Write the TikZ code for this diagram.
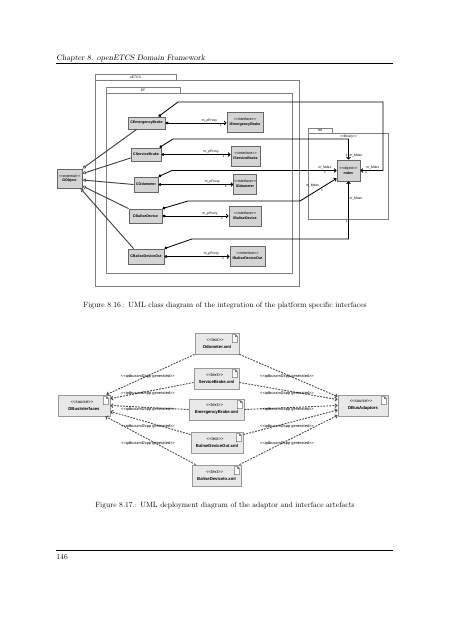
\documentclass[tikz,border=0pt]{standalone}
\usepackage{fontspec}
\usepackage{tikz}
\usetikzlibrary{arrows.meta,positioning}
\newfontfamily\umlfont{Liberation Sans}
\newlength\pxu
\setlength\pxu{1.3165pt}
\newcommand\umlst[1]{{\mdseries<{}<#1>{}>}}
\newcommand\fileicon[1]{\draw[iconline, shift={(#1.north east)}] (-7,2) -- (-4,2) -- (-2,4) -- (-2,10) -- (-7,10) -- cycle (-4,2) -- (-4,4) -- (-2,4);}

\begin{document}
\begin{tikzpicture}[x=\pxu, y=-\pxu, line width=1.1pt,
	cls/.style={draw=black!60, fill=black!17, inner sep=0pt, align=center, font=\umlfont\fontsize{4.8}{5.4}\selectfont\bfseries},
	art/.style={draw=black!40, fill=black!9, inner sep=0pt, align=center, minimum height=21\pxu, font=\umlfont\fontsize{5.6}{6.4}\selectfont\bfseries},
	pkg/.style={draw=black!50},
	role/.style={font=\umlfont\fontsize{4.4}{5}\selectfont, inner sep=0.8pt},
	deplabel/.style={font=\umlfont\fontsize{5.2}{6}\selectfont, inner sep=0pt},
	gen/.style={draw=black!75, line width=1.2pt, -{Triangle[open, length=4.5pt, width=4.5pt, line width=0.7pt]}},
	proxy/.style={{Diamond[length=4.5pt, width=4pt]}-{Straight Barb[length=2.5pt, width=5pt]}},
	dep/.style={draw=black!70, line width=1.2pt, dash pattern=on 2.4pt off 1.6pt, -{Straight Barb[length=2.5pt, width=5pt]}},
	iconline/.style={draw=black!55, fill=white, line width=0.8pt},
	pagetext/.style={font=\fontsize{10}{12}\selectfont, inner sep=0pt}]
	\fill[white] (0,0) rectangle (453,640);
	\useasboundingbox (0,0) rectangle (453,640);

	% Page {header, captions, footer}
	\node [pagetext, anchor=base west] (header) at (56,60.5) {\fontsize{10.4}{12}\selectfont\slshape Chapter 8. openETCS Domain Framework};
	\draw [line width=1.2pt] (56,63.5) -- (393,63.5);
	\node [pagetext, anchor=base] (capOne) at (225,307.5) {Figure 8.16.: UML class diagram of the integration of the platform specific interfaces};
	\node [pagetext, anchor=base] (capTwo) at (225,507.5) {Figure 8.17.: UML deployment diagram of the adaptor and interface artefacts};
	\draw [line width=1.2pt] (56,550) -- (393,550);
	\node [pagetext, anchor=base west] (pageNo) at (56,559) {146};

	% Packages
	\draw [pkg] (95,74) rectangle (176,80) (95,80) rectangle (299,286);
	\node [role] (etcsLbl) at (135.5,77) {eETCS};
	\draw [pkg] (106,87) rectangle (180,93) (106,93) rectangle (292,273);
	\node [role] (efLbl) at (143,90) {EF};
	\draw [pkg] (308,128) rectangle (332,133) (308,133) rectangle (388,219);
	\node [role] (ddLbl) at (320,130.5) {dd};

	% Classes {gObj, cEB, cSB, cOdo, cBD, cBDO, iEB, iSB, iOdo, iBD, iBDO, mdev}
	\node [cls, minimum width=25\pxu, minimum height=19\pxu] (gObj) at (69.5,178.5) {\umlst{external}\\[1pt]GObject};
	\node [cls, minimum width=37\pxu, minimum height=12\pxu] (cEB)  at (146.5,123)  {CEmergencyBrake};
	\node [cls, minimum width=30\pxu, minimum height=13\pxu] (cSB)  at (146,154.5)  {CServiceBrake};
	\node [cls, minimum width=24\pxu, minimum height=15\pxu] (cOdo) at (146,184.5)  {COdometer};
	\node [cls, minimum width=33\pxu, minimum height=14\pxu] (cBD)  at (145.5,216)  {CBaliseDevice};
	\node [cls, minimum width=36\pxu, minimum height=15\pxu] (cBDO) at (146,256.5)  {CBaliseDeviceOut};
	\node [cls, minimum width=36\pxu, minimum height=20\pxu] (iEB)  at (245,122)    {\umlst{interface}\\[1.5pt]IEmergencyBrake};
	\node [cls, minimum width=29\pxu, minimum height=20\pxu] (iSB)  at (245.5,156)  {\umlst{interface}\\[1.5pt]IServiceBrake};
	\node [cls, minimum width=22\pxu, minimum height=20\pxu] (iOdo) at (245,184)    {\umlst{interface}\\[1.5pt]IOdometer};
	\node [cls, minimum width=32\pxu, minimum height=20\pxu] (iBD)  at (245,216)    {\umlst{interface}\\[1.5pt]IBaliseDevice};
	\node [cls, minimum width=35\pxu, minimum height=20\pxu] (iBDO) at (247.5,256)  {\umlst{interface}\\[1.5pt]IBaliseDeviceOut};
	\node [cls, minimum width=23\pxu, minimum height=21\pxu] (mdev) at (348.5,170.5) {\umlst{object}\\[1.5pt]mdev};

	% Generalisations
	\draw [gen] ([xshift=9\pxu]cEB.south west) -- (gObj.north east);
	\draw [gen] ([yshift=-3.5\pxu]cSB.west) -- ([yshift=-5\pxu]gObj.north east);
	\draw [gen] (cOdo.west) -- ([yshift=-1.5\pxu]gObj.east);
	\draw [gen] (cBD.north west) -- ([yshift=-7.5\pxu]gObj.east);
	\draw [gen] ([xshift=6\pxu]cBDO.north west) -- ([xshift=-2\pxu]gObj.south east);

	% Proxies
	\path [proxy] (cEB.east)  edge node [role, pos=0.72, above] {m\_pProxy} node [role, pos=0.9, below] {1} (cEB.east -| iEB.west);
	\path [proxy] (cSB.east)  edge node [role, pos=0.72, above] {m\_pProxy} node [role, pos=0.9, below] {1} (cSB.east -| iSB.west);
	\path [proxy] (cOdo.east) edge node [role, pos=0.72, above] {m\_pProxy} node [role, pos=0.9, below] {1} (cOdo.east -| iOdo.west);
	\path [proxy] (cBD.east)  edge node [role, pos=0.72, above] {m\_pProxy} node [role, pos=0.9, below] {1} (cBD.east -| iBD.west);
	\path [proxy] (cBDO.east) edge node [role, pos=0.72, above] {m\_pProxy} node [role, pos=0.9, below] {1} (cBDO.east -| iBDO.west);

	% Paths to mdev
	\draw [proxy] ([xshift=-7\pxu]cEB.north east) -- (178,102) -- (383,102) -- (383,170.5) -- (mdev.east)
		node [role, pos=0.45, above] {m\_Mdev} node [role, pos=0.75, below] {1};
	\draw [proxy] ([xshift=-2\pxu]cSB.north east) -- (173,139) -- (mdev.north |- 0,139) node [role, above] {\umlst{library}} -- (mdev.north)
		node [role, pos=0.8, left] {1} node [role, pos=0.8, right] {m\_Mdev};
	\draw [proxy] (cOdo.north east) -- (172,170.5) -- (mdev.west)
		node [role, pos=0.93, above] {m\_Mdev} node [role, pos=0.93, below] {1};
	\draw [proxy] (cBD.north east) -- (188,201) -- (300,201) -- ([yshift=3\pxu]mdev.south west)
		node [role, pos=0.55, above left] {m\_Mdev} node [role, pos=0.55, below right] {1};
	\draw [proxy] (cBDO.north east) -- (192,239) -- (mdev.south |- 0,239) -- (mdev.south)
		node [role, pos=0.7, right] {m\_Mdev} node [role, pos=0.3, left] {1};

	% Artefacts {oXml, sXml, eXml, bOutXml, bInXml, dbusIf, dbusAd}
	\node [art, minimum width=44\pxu] (oXml)    at (217,343.5)   {\umlst{text}\hspace*{5pt}\\[3pt]Odometer.xml};
	\node [art, minimum width=45\pxu] (sXml)    at (216.5,378.5) {\umlst{text}\hspace*{5pt}\\[3pt]ServiceBrake.xml};
	\node [art, minimum width=55\pxu] (eXml)    at (216.5,409.5) {\umlst{text}\hspace*{5pt}\\[3pt]EmergencyBrake.xml};
	\node [art, minimum width=52\pxu] (bOutXml) at (217,442.5)   {\umlst{text}\hspace*{5pt}\\[3pt]BaliseDeviceOut.xml};
	\node [art, minimum width=49\pxu] (bInXml)  at (216.5,475.5) {\umlst{text}\hspace*{5pt}\\[3pt]BaliseDeviceIn.xml};
	\node [art, minimum width=52\pxu] (dbusIf)  at (84,405.5)    {\umlst{source}\hspace*{5pt}\\[3pt]DBusInterfaces};
	\node [art, minimum width=50\pxu] (dbusAd)  at (363,405.5)   {\umlst{source}\hspace*{5pt}\\[3pt]DBusAdaptors};
	\fileicon{oXml}
	\fileicon{sXml}
	\fileicon{eXml}
	\fileicon{bOutXml}
	\fileicon{bInXml}
	\fileicon{dbusIf}
	\fileicon{dbusAd}

	% Dependencies
	\draw [dep] (oXml.south west) -- ([xshift=-4\pxu]dbusIf.north east);
	\draw [dep] ([yshift=-4\pxu]sXml.west) -- ([yshift=-4\pxu]dbusIf.north east);
	\draw [dep] (eXml.west) -- (dbusIf.east);
	\draw [dep] ([yshift=-3\pxu]bOutXml.north west) -- ([yshift=-6\pxu]dbusIf.east);
	\draw [dep] ([xshift=4\pxu]bInXml.north west) -- ([xshift=-5\pxu]dbusIf.south east);
	\draw [dep] (oXml.south east) -- ([yshift=-2\pxu]dbusAd.north west);
	\draw [dep] ([yshift=-4\pxu]sXml.east) -- ([yshift=-5\pxu]dbusAd.north west);
	\draw [dep] (eXml.east) -- (dbusAd.west);
	\draw [dep] ([yshift=-3\pxu]bOutXml.north east) -- ([yshift=-4.5\pxu]dbusAd.west);
	\draw [dep] ([xshift=-2\pxu]bInXml.north east) -- ([yshift=1\pxu]dbusAd.south west);

	% Labels
	\foreach \y [count=\i] in {376,393,409,426,443} {
		\node [deplabel] (genL\i) at (148,\y) {\umlst{qdbusxml2cpp generated}};
		\node [deplabel] (genR\i) at (287,\y) {\umlst{qdbusxml2cpp generated}};
	}
\end{tikzpicture}
\end{document}
